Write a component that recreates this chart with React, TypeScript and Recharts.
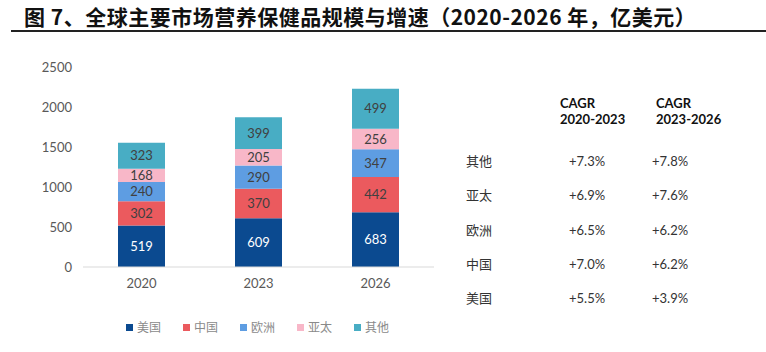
import React from "react";
import { BarChart, Bar, XAxis, YAxis, LabelList } from "recharts";

const years = ["2020", "2023", "2026"];
const usValues = [519, 609, 683];
const cnValues = [302, 370, 442];
const euValues = [240, 290, 347];
const apacValues = [168, 205, 256];
const otherValues = [323, 399, 499];
const yTicks = [0, 500, 1000, 1500, 2000, 2500];

const seriesNames = ["美国", "中国", "欧洲", "亚太", "其他"];
const seriesColors = ["#0B4A90", "#EB5A5E", "#5E9DE2", "#F8B7C8", "#48ADC4"];
const seriesKeys = ["us", "cn", "eu", "apac", "other"];

const tableRegions = ["其他", "亚太", "欧洲", "中国", "美国"];
const cagr2023 = ["+7.3%", "+6.9%", "+6.5%", "+7.0%", "+5.5%"];
const cagr2026 = ["+7.8%", "+7.6%", "+6.2%", "+6.2%", "+3.9%"];

const data = years.map((y, i) => ({
  year: y,
  us: usValues[i],
  cn: cnValues[i],
  eu: euValues[i],
  apac: apacValues[i],
  other: otherValues[i],
}));

const cjk = '"Noto Sans CJK SC", "Noto Sans", sans-serif';
const num = 'Lato, "Open Sans", sans-serif';

export default function App() {
  return (
    <div style={{ position: "absolute", left: 0, top: 0, width: 766, height: 352, background: "#fff", overflow: "hidden" }}>
      <div
        style={{
          position: "absolute",
          left: 24,
          top: 3,
          fontFamily: cjk,
          fontWeight: 700,
          fontSize: 21,
          letterSpacing: 0.5,
          color: "#111",
          whiteSpace: "nowrap",
          lineHeight: "26px",
        }}
      >
        图 7、全球主要市场营养保健品规模与增速（2020-2026 年，亿美元）
      </div>
      <div style={{ position: "absolute", left: 11, top: 30, width: 755, height: 2, background: "#222" }} />
      <div style={{ position: "absolute", left: 0, top: 0 }}>
        <BarChart width={766} height={352} data={data} margin={{ top: 67, right: 332, bottom: 55, left: 0 }}>
          <XAxis
            dataKey="year"
            axisLine={{ stroke: "#d9d9d9" }}
            tickLine={false}
            tick={{ fill: "#595959", fontSize: 13, fontFamily: num }}
            tickMargin={6}
          />
          <YAxis
            width={83}
            domain={[0, 2500]}
            ticks={yTicks}
            axisLine={false}
            tickLine={false}
            tickMargin={5}
            tick={{ fill: "#595959", fontSize: 13, fontFamily: num }}
          />
          {seriesKeys.map((k, i) => (
            <Bar key={k} dataKey={k} name={seriesNames[i]} stackId="a" fill={seriesColors[i]} barSize={47} isAnimationActive={false}>
              <LabelList
                dataKey={k}
                position="center"
                fill={i === 0 ? "#ffffff" : "#404040"}
                fontSize={13}
                fontFamily={num}
              />
            </Bar>
          ))}
        </BarChart>
      </div>
      <div style={{ position: "absolute", left: 126, top: 318, display: "flex", fontFamily: cjk, fontSize: 12, color: "#8a8a8a", lineHeight: "18px" }}>
        {seriesNames.map((n, i) => (
          <div key={n} style={{ width: 57, display: "flex", alignItems: "center" }}>
            <span style={{ display: "inline-block", width: 7, height: 7, background: seriesColors[i], marginRight: 4 }} />
            <span>{n}</span>
          </div>
        ))}
      </div>
      {[560, 656].map((x, ci) => (
        <div
          key={x}
          style={{
            position: "absolute",
            left: x,
            top: 95,
            fontFamily: num,
            fontWeight: 700,
            fontSize: 13,
            color: "#111",
            lineHeight: "16px",
          }}
        >
          <div>CAGR</div>
          <div>{ci === 0 ? "2020-2023" : "2023-2026"}</div>
        </div>
      ))}
      {tableRegions.map((r, i) => {
        const y = 161 + i * 34.3;
        return (
          <React.Fragment key={r}>
            <div style={{ position: "absolute", left: 466, top: y - 9, fontFamily: cjk, fontSize: 13, color: "#333", lineHeight: "18px" }}>{r}</div>
            <div style={{ position: "absolute", left: 569, top: y - 9, fontFamily: num, fontSize: 13, color: "#333", lineHeight: "18px" }}>{cagr2023[i]}</div>
            <div style={{ position: "absolute", left: 652, top: y - 9, fontFamily: num, fontSize: 13, color: "#333", lineHeight: "18px" }}>{cagr2026[i]}</div>
          </React.Fragment>
        );
      })}
    </div>
  );
}
